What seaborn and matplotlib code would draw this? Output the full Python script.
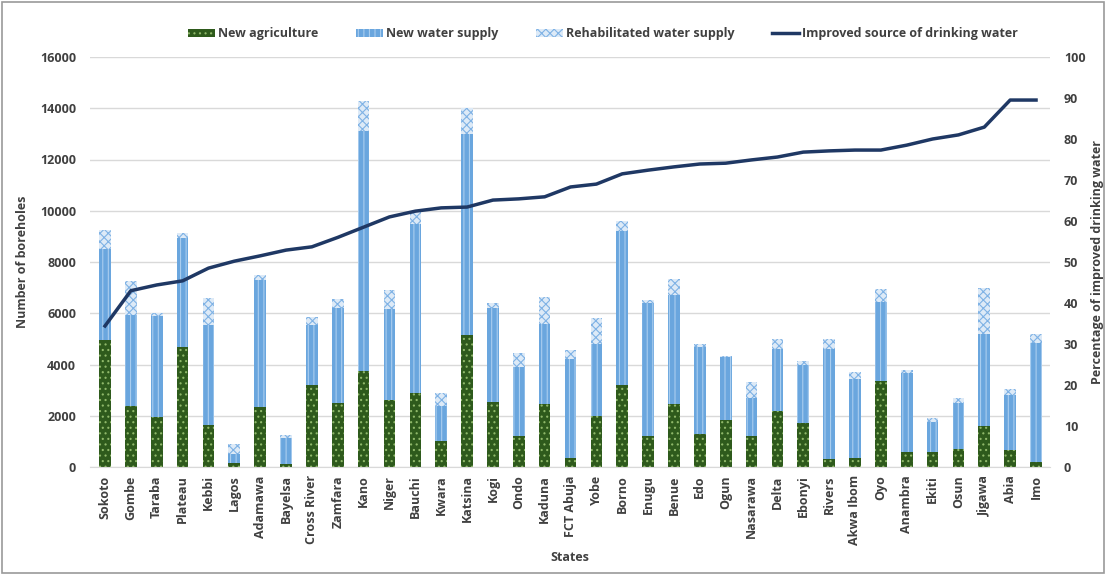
import numpy as np
import pandas as pd
import seaborn as sns
import matplotlib.pyplot as plt
from matplotlib.patches import Patch, Rectangle
from matplotlib.lines import Line2D

states = ["Sokoto", "Gombe", "Taraba", "Plateau", "Kebbi", "Lagos", "Adamawa", "Bayelsa",
          "Cross River", "Zamfara", "Kano", "Niger", "Bauchi", "Kwara", "Katsina", "Kogi",
          "Ondo", "Kaduna", "FCT Abuja", "Yobe", "Borno", "Enugu", "Benue", "Edo", "Ogun",
          "Nasarawa", "Delta", "Ebonyi", "Rivers", "Akwa Ibom", "Oyo", "Anambra", "Ekiti",
          "Osun", "Jigawa", "Abia", "Imo"]
new_agriculture = [4950, 2400, 1950, 4700, 1650, 150, 2350, 100, 3200, 2500, 3750, 2600, 2900,
                   1000, 5150, 2550, 1200, 2450, 350, 2000, 3200, 1200, 2450, 1300, 1850, 1200,
                   2200, 1700, 300, 350, 3350, 600, 600, 700, 1600, 650, 200]
new_water = [3550, 3550, 3950, 4250, 3900, 350, 4950, 1050, 2350, 3700, 9350, 3550, 6600,
             1400, 7850, 3650, 2700, 3150, 3850, 2800, 6000, 5200, 4250, 3400, 2450, 1500,
             2400, 2300, 4300, 3100, 3100, 3050, 1150, 1800, 3600, 2150, 4650]
rehab_water = [750, 1300, 100, 200, 1050, 400, 200, 100, 300, 350, 1200, 750, 500, 500, 1000,
               200, 550, 1050, 350, 1000, 400, 100, 650, 100, 50, 600, 400, 150, 400, 250,
               500, 150, 150, 200, 1800, 250, 350]
improved_pct = [34.4, 43.0, 44.4, 45.4, 48.5, 50.2, 51.5, 52.9, 53.7, 56.0, 58.5, 61.0, 62.4,
                63.2, 63.4, 65.1, 65.4, 65.9, 68.3, 69.0, 71.5, 72.4, 73.2, 73.9, 74.1, 74.9,
                75.6, 76.8, 77.1, 77.3, 77.3, 78.5, 80.0, 81.0, 82.9, 89.5, 89.5]

df = pd.DataFrame({"state": states, "agri": new_agriculture, "water": new_water,
                   "rehab": rehab_water, "pct": improved_pct})
df["water_top"] = df["agri"] + df["water"]
df["total"] = df["water_top"] + df["rehab"]
df["pos"] = np.arange(len(df))

plt.rcParams["hatch.linewidth"] = 0.8
plt.rcParams["font.family"] = ["Open Sans", "DejaVu Sans"]
txt = "#404040"

fig = plt.figure(figsize=(11.06, 5.75), dpi=100)
ax = fig.add_axes([90 / 1106, 1 - 467 / 575, 960 / 1106, 410 / 575])
fig.patches.append(Rectangle((0.002, 0.003), 0.996, 0.994, transform=fig.transFigure,
                             fill=False, edgecolor="#9a9a9a", linewidth=1.2))

ax.set_axisbelow(True)
ax.yaxis.grid(True, color="#d9d9d9", linewidth=1)
sns.barplot(data=df, x="state", y="total", color="#ddeaf7", saturation=1, width=0.45,
            hatch="xxxx", edgecolor="#7fb2e5", linewidth=0, ax=ax)
sns.barplot(data=df, x="state", y="water_top", color="#6aa6de", saturation=1, width=0.45,
            hatch="|||", edgecolor="#a9cdef", linewidth=0, ax=ax)
sns.barplot(data=df, x="state", y="agri", color="#2e5a1c", saturation=1, width=0.45,
            hatch="...", edgecolor="#8fb86a", linewidth=0, ax=ax)

ax.set_ylim(0, 16000)
ax.set_yticks(range(0, 16001, 2000))
ax.set_xlim(-0.58, len(df) - 0.46)
ax.set_xlabel("States", fontsize=9, fontweight="bold", color=txt)
ax.set_ylabel("Number of boreholes", fontsize=9, fontweight="bold", color=txt, labelpad=8)
ax.tick_params(axis="x", rotation=90, labelsize=9, length=0, pad=6, labelcolor=txt)
ax.tick_params(axis="y", labelsize=9, length=0, pad=10, labelcolor=txt)
for lab in ax.get_xticklabels() + ax.get_yticklabels():
    lab.set_fontweight("bold")
for s in ["top", "left", "right"]:
    ax.spines[s].set_visible(False)
ax.spines["bottom"].set_color("#d9d9d9")

ax2 = ax.twinx()
sns.lineplot(data=df, x="pos", y="pct", color="#1f3864", linewidth=2.5, ax=ax2)
ax2.set_ylim(0, 100)
ax2.set_yticks(range(0, 101, 10))
ax2.set_ylabel("Percentage of improved drinking water", fontsize=9, fontweight="bold",
               color=txt, labelpad=4)
ax2.tick_params(axis="y", labelsize=9, length=0, pad=10, labelcolor=txt)
for lab in ax2.get_yticklabels():
    lab.set_fontweight("bold")
for s in ax2.spines.values():
    s.set_visible(False)

handles = [Patch(facecolor="#2e5a1c", edgecolor="#8fb86a", hatch="...", linewidth=0),
           Patch(facecolor="#6aa6de", edgecolor="#a9cdef", hatch="|||", linewidth=0),
           Patch(facecolor="#ddeaf7", edgecolor="#7fb2e5", hatch="xxxx", linewidth=0),
           Line2D([], [], color="#1f3864", linewidth=2.5)]
labels = ["New agriculture", "New water supply", "Rehabilitated water supply",
          "Improved source of drinking water"]
leg = fig.legend(handles, labels, loc="center", bbox_to_anchor=(0.545, 1 - 34 / 575), ncol=4,
                 frameon=False, fontsize=9, handlelength=2.2, handleheight=0.6,
                 handletextpad=0.2, columnspacing=3)
for t in leg.get_texts():
    t.set_fontweight("bold")
    t.set_color(txt)

fig.savefig("out.png", dpi=100)
